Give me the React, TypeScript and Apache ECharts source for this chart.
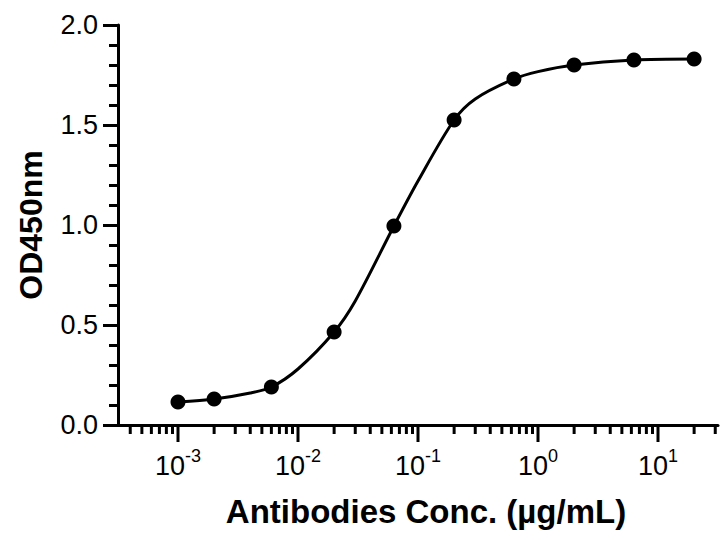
import React, { useEffect, useRef } from "react";
import * as echarts from "echarts";

// Measured points: concentrations (µg/mL) and OD450nm readings
const concentrations = [0.001, 0.002, 0.006, 0.02, 0.063, 0.2, 0.63, 2, 6.3, 20];
const od450 = [0.115, 0.13, 0.19, 0.465, 0.995, 1.525, 1.73, 1.8, 1.825, 1.83];

// Fitted curve, positions
const fitX = [0.001, 0.002, 0.004, 0.006, 0.01, 0.02, 0.03, 0.063, 0.1, 0.2, 0.3, 0.63, 1, 2, 6.3, 20];
const fitY = [0.115, 0.13, 0.16, 0.19, 0.28, 0.465, 0.62, 0.995, 1.22, 1.525, 1.63, 1.73, 1.767, 1.8, 1.825, 1.83];

// Log-axis tick marks
const majorTicks = [0.001, 0.01, 0.1, 1, 10];
const minorTicks = [
  0.0004, 0.0005, 0.0006, 0.0007, 0.0008, 0.0009,
  0.002, 0.003, 0.004, 0.005, 0.006, 0.007, 0.008, 0.009,
  0.02, 0.03, 0.04, 0.05, 0.06, 0.07, 0.08, 0.09,
  0.2, 0.3, 0.4, 0.5, 0.6, 0.7, 0.8, 0.9,
  2, 3, 4, 5, 6, 7, 8, 9,
  20, 30,
];

const xTitle = "Antibodies Conc. (µg/mL)";
const yTitle = "OD450nm";
const FONT = "'Liberation Sans', Arial, Helvetica, sans-serif";

export default function App() {
  const ref = useRef<HTMLDivElement>(null);

  useEffect(() => {
    if (!ref.current) return;
    const chart = echarts.init(ref.current, null, { renderer: "svg" });

    const tickData = [
      ...majorTicks.map((v) => [v, 1]),
      ...minorTicks.map((v) => [v, 0]),
    ];

    chart.setOption({
      animation: false,
      backgroundColor: "#fff",
      grid: { left: 118, top: 25, width: 600, height: 400, containLabel: false },
      xAxis: {
        type: "log",
        logBase: 10,
        min: Math.pow(10, -3.5),
        max: Math.pow(10, 1.5),
        name: xTitle,
        nameLocation: "middle",
        nameGap: 70,
        nameTextStyle: {
          fontFamily: FONT,
          fontSize: 33,
          fontWeight: "bold",
          color: "#000",
          padding: [0, 0, 0, 16],
        },
        axisLine: { show: true, onZero: false, lineStyle: { color: "#000", width: 3 } },
        axisTick: { show: false },
        minorTick: { show: false },
        splitLine: { show: false },
        axisLabel: {
          margin: 22,
          color: "#000",
          formatter: (v: number) => {
            const l = Math.log10(v);
            const e = Math.round(l);
            if (Math.abs(l - e) > 1e-6) return "";
            return `{b|10}{s|${e}}`;
          },
          rich: {
            b: { fontFamily: FONT, fontSize: 27, color: "#000", lineHeight: 32, verticalAlign: "bottom" },
            s: { fontFamily: FONT, fontSize: 18, color: "#000", lineHeight: 32, verticalAlign: "top" },
          },
        },
      },
      yAxis: {
        type: "value",
        min: 0,
        max: 2,
        interval: 0.5,
        name: yTitle,
        nameLocation: "middle",
        nameGap: 71,
        nameTextStyle: { fontFamily: FONT, fontSize: 32, fontWeight: "bold", color: "#000" },
        axisLine: { show: true, lineStyle: { color: "#000", width: 3 } },
        axisTick: { show: true, length: 15, lineStyle: { color: "#000", width: 3 } },
        minorTick: { show: true, splitNumber: 5, length: 9, lineStyle: { color: "#000", width: 3 } },
        splitLine: { show: false },
        axisLabel: {
          margin: 20,
          fontFamily: FONT,
          fontSize: 27,
          color: "#000",
          formatter: (v: number) => v.toFixed(1),
        },
      },
      series: [
        {
          type: "custom",
          data: tickData,
          encode: { x: 0, y: 1 },
          clip: false,
          silent: true,
          z: 1,
          renderItem: (params: any, api: any) => {
            const v = api.value(0);
            const major = api.value(1) === 1;
            const p = api.coord([v, 0]);
            return {
              type: "line",
              shape: { x1: p[0], y1: p[1], x2: p[0], y2: p[1] + (major ? 17 : 9) },
              style: { stroke: "#000", lineWidth: 3 },
            };
          },
        },
        {
          type: "line",
          data: fitX.map((c, i) => [c, fitY[i]]),
          smooth: 0.3,
          symbol: "none",
          z: 2,
          lineStyle: { color: "#000", width: 3 },
        },
        {
          type: "scatter",
          data: concentrations.map((c, i) => [c, od450[i]]),
          symbol: "circle",
          symbolSize: 15,
          z: 3,
          itemStyle: { color: "#000", opacity: 1 },
        },
      ],
    });

    return () => chart.dispose();
  }, []);

  return (
    <div
      ref={ref}
      style={{ position: "fixed", left: 0, top: 0, width: 728, height: 540, background: "#fff" }}
    />
  );
}
